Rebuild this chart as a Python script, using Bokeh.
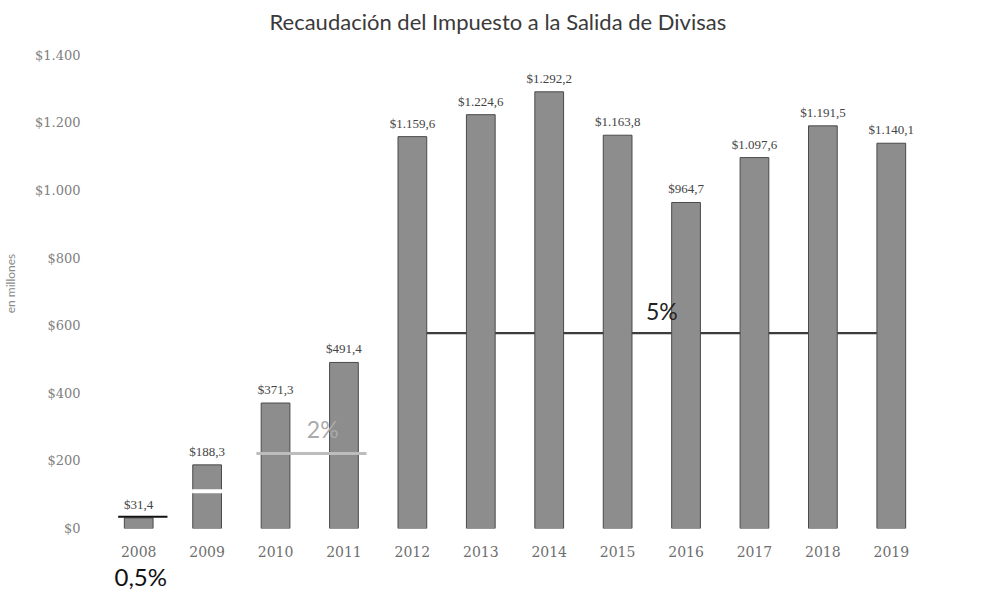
from bokeh.plotting import figure
from bokeh.models import FactorRange, Range1d, FixedTicker, Label, ColumnDataSource, Title
from bokeh.embed import file_html
from bokeh.resources import INLINE

# ---- data ----
years = ["2008", "2009", "2010", "2011", "2012", "2013", "2014", "2015", "2016", "2017", "2018", "2019"]
values = [31.4, 188.3, 371.3, 491.4, 1159.6, 1224.6, 1292.2, 1163.8, 964.7, 1097.6, 1191.5, 1140.1]
value_labels = ["$31,4", "$188,3", "$371,3", "$491,4", "$1.159,6", "$1.224,6", "$1.292,2",
                "$1.163,8", "$964,7", "$1.097,6", "$1.191,5", "$1.140,1"]
y_ticks = [0, 200, 400, 600, 800, 1000, 1200, 1400]
y_tick_labels = ["$0", "$200", "$400", "$600", "$800", "$1.000", "$1.200", "$1.400"]

# tax-rate reference lines (level)
rate_names = ["0,5%", "1%", "2%", "5%"]
rate_first_year = ["2008", "2009", "2010", "2012"]
rate_last_year = ["2008", "2009", "2011", "2019"]
rate_levels = [35, 110, 222, 578]

title_text = "Recaudación del Impuesto a la Salida de Divisas"

BAR = "#8d8d8d"
NUMFONT = "DejaVu Serif"

p = figure(width=975, height=590, output_backend="svg", toolbar_location=None,
           x_range=FactorRange(factors=years, range_padding=0),
           y_range=Range1d(0, 1450),
           min_border_left=103, min_border_right=50, min_border_top=38, min_border_bottom=60)
p.title.text = title_text
p.title.align = "left"
p.title.offset = 165
p.title.text_font = "Lato"
p.title.text_font_size = "22px"
p.title.text_font_style = "normal"
p.title.text_color = "#3a3a3a"
p.title.standoff = 8
p.outline_line_color = None
p.xgrid.grid_line_color = None
p.ygrid.grid_line_color = None
p.background_fill_color = "white"
p.border_fill_color = "white"

# axes
p.yaxis.ticker = FixedTicker(ticks=y_ticks)
p.yaxis.major_label_overrides = {t: l for t, l in zip(y_ticks, y_tick_labels)}
p.yaxis.axis_line_color = None
p.yaxis.major_tick_line_color = None
p.yaxis.minor_tick_line_color = None
p.yaxis.major_label_text_font = NUMFONT
p.yaxis.major_label_text_font_size = "13px"
p.yaxis.major_label_text_color = "#808080"
p.yaxis.major_label_standoff = 18
p.yaxis.axis_label = "en millones"
p.yaxis.axis_label_text_font = "Lato"
p.yaxis.axis_label_text_font_size = "12px"
p.yaxis.axis_label_text_font_style = "normal"
p.yaxis.axis_label_text_color = "#8a8a8a"
p.yaxis.axis_label_standoff = 14

p.xaxis.axis_line_color = None
p.xaxis.major_tick_line_color = None
p.xaxis.minor_tick_line_color = None
p.xaxis.major_label_text_font = NUMFONT
p.xaxis.major_label_text_font_size = "14px"
p.xaxis.major_label_text_color = "#6e6e6e"
p.xaxis.major_label_standoff = 11

# 0,5% label placed below the year axis
p.add_layout(Title(text=rate_names[0], align="left", offset=10, standoff=0,
                   text_font="Lato", text_font_size="24px", text_font_style="normal",
                   text_color="#111111"), "below")

def idx(y):
    return years.index(y) + 0.5

# 5% line behind bars
i5 = 3
p.segment(x0=[idx(rate_first_year[i5])], x1=[idx(rate_last_year[i5])],
          y0=[rate_levels[i5]], y1=[rate_levels[i5]], line_color="#3c3c3c", line_width=2.2)

src = ColumnDataSource(dict(x=years, top=values, lab=value_labels))
p.vbar(x="x", top="top", width=0.42, source=src, fill_color=BAR, line_color="#4a4a4a", line_width=1)
p.text(x="x", y="top", text="lab", source=src, text_align="center", text_baseline="bottom",
       y_offset=-6, text_font=NUMFONT, text_font_size="13px", text_color="#444444")

# 0.5% line
i0 = 0
p.segment(x0=[idx(rate_first_year[i0]) - 0.3], x1=[idx(rate_last_year[i0]) + 0.42],
          y0=[rate_levels[i0]], y1=[rate_levels[i0]], line_color="#111111", line_width=2)
# 1% white line across 2009 bar
i1 = 1
p.segment(x0=[idx(rate_first_year[i1]) - 0.22], x1=[idx(rate_last_year[i1]) + 0.22],
          y0=[rate_levels[i1]], y1=[rate_levels[i1]], line_color="white", line_width=4)
# 2% line
i2 = 2
p.segment(x0=[idx(rate_first_year[i2]) - 0.28], x1=[idx(rate_last_year[i2]) + 0.33],
          y0=[rate_levels[i2]], y1=[rate_levels[i2]], line_color="#bdbdbd", line_width=3)

# rate labels
p.add_layout(Label(x=(idx("2015") + idx("2016")) / 2, y=rate_levels[3], text=rate_names[3],
                   text_align="center", text_baseline="bottom", x_offset=10, y_offset=8,
                   text_font="Lato", text_font_size="23px", text_color="#222222"))
p.add_layout(Label(x=(idx("2010") + idx("2011")) / 2, y=rate_levels[2], text=rate_names[2],
                   text_align="center", text_baseline="bottom", x_offset=13, y_offset=10,
                   text_font="Lato", text_font_size="23px", text_color="#aaaaaa"))

open("out.html", "w").write(file_html(p, INLINE))
